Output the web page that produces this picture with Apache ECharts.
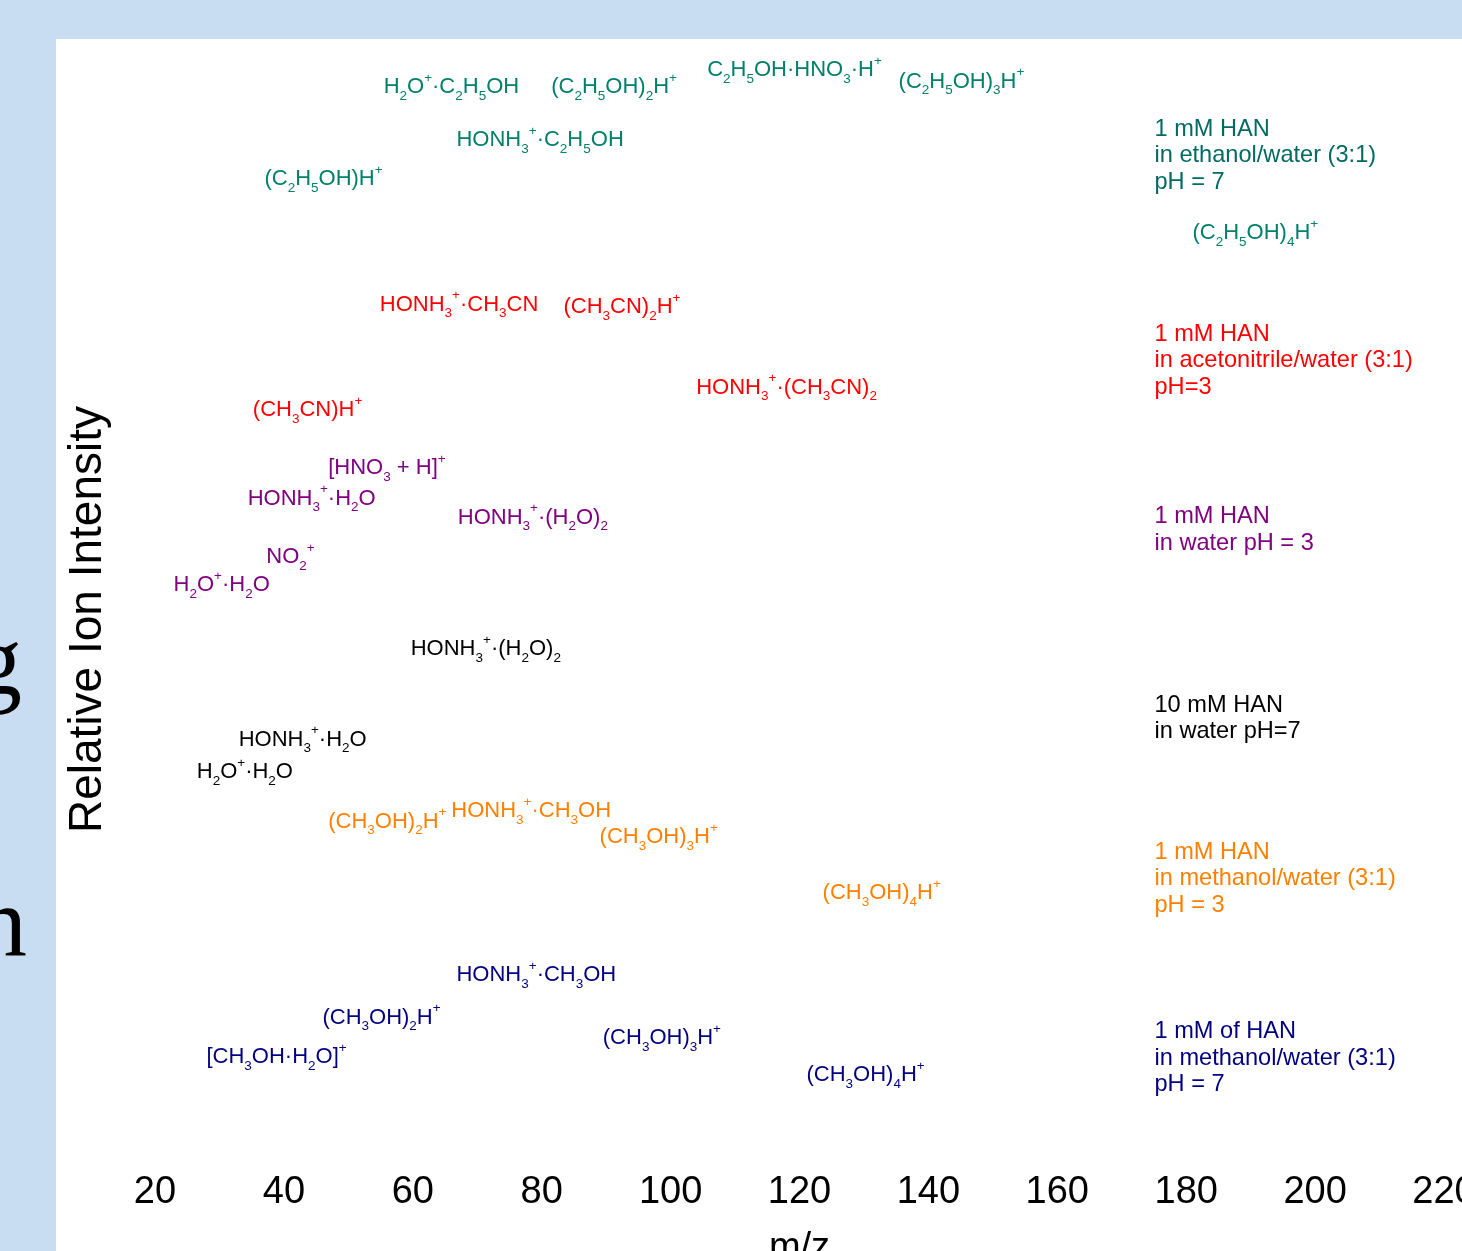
<!DOCTYPE html>
<html>
<head>
<meta charset="utf-8">
<script src="https://cdn.jsdelivr.net/npm/echarts@6/dist/echarts.min.js"></script>
<style>
html,body{margin:0;padding:0;background:#C8DDF1;overflow:hidden}
#c{width:1462px;height:1251px}
</style>
</head>
<body>
<div id="c"></div>
<script>
// ---------------- DATA ----------------
// x-axis tick range (m/z)
const mzMin = 20, mzMax = 220, mzStep = 20;

// Ion labels (formula markup: _x subscript, ^x superscript), their m/z anchor and relative intensity position
const ethanolLabels = ['H_2O^+·C_2H_5OH', '(C_2H_5OH)_2H^+', 'C_2H_5OH·HNO_3·H^+', '(C_2H_5OH)_3H^+', 'HONH_3^+·C_2H_5OH', '(C_2H_5OH)H^+', '(C_2H_5OH)_4H^+'];
const ethanolMz = [55.4, 81.4, 105.6, 135.3, 66.7, 36.9, 180.9];
const ethanolIntensity = [95.7, 95.7, 97.2, 96.2, 91.0, 87.5, 82.7];

const acetonitrileLabels = ['HONH_3^+·CH_3CN', '(CH_3CN)_2H^+', 'HONH_3^+·(CH_3CN)_2', '(CH_3CN)H^+'];
const acetonitrileMz = [54.8, 83.3, 103.9, 35.1];
const acetonitrileIntensity = [76.3, 76.1, 68.9, 66.9];

const waterPh3Labels = ['[HNO_3 + H]^+', 'HONH_3^+·H_2O', 'HONH_3^+·(H_2O)_2', 'NO_2^+', 'H_2O^+·H_2O'];
const waterPh3Mz = [46.8, 34.3, 66.9, 37.2, 22.8];
const waterPh3Intensity = [61.7, 59.0, 57.3, 53.8, 51.3];

const waterPh7Labels = ['HONH_3^+·(H_2O)_2', 'HONH_3^+·H_2O', 'H_2O^+·H_2O'];
const waterPh7Mz = [59.6, 32.9, 26.4];
const waterPh7Intensity = [45.6, 37.5, 34.6];

const methanolPh3Labels = ['(CH_3OH)_2H^+', 'HONH_3^+·CH_3OH', '(CH_3OH)_3H^+', '(CH_3OH)_4H^+'];
const methanolPh3Mz = [46.8, 65.9, 88.9, 123.5];
const methanolPh3Intensity = [30.2, 31.1, 28.8, 23.8];

const methanolPh7Labels = ['HONH_3^+·CH_3OH', '(CH_3OH)_2H^+', '[CH_3OH·H_2O]^+', '(CH_3OH)_3H^+', '(CH_3OH)_4H^+'];
const methanolPh7Mz = [66.7, 45.9, 27.9, 89.4, 121.0];
const methanolPh7Intensity = [16.5, 12.7, 9.2, 10.9, 7.6];

// Sample descriptions
const sampleNames = [
  '1 mM HAN\nin ethanol/water (3:1)\npH = 7',
  '1 mM HAN\nin acetonitrile/water (3:1)\npH=3',
  '1 mM HAN\nin water pH = 3',
  '10 mM HAN\nin water pH=7',
  '1 mM HAN\nin methanol/water (3:1)\npH = 3',
  '1 mM of HAN\nin methanol/water (3:1)\npH = 7'
];
const sampleMz = [175, 175, 175, 175, 175, 175];
const sampleIntensity = [89.6, 71.3, 56.2, 39.4, 25.1, 9.1];

// ---------------- STYLE ----------------
const FONT = '"Liberation Sans", Arial, Helvetica, sans-serif';
const ionColors = ['#00806A', '#FF0000', '#800080', '#000000', '#FF8000', '#000080'];
const descColors = ['#006A63', '#FF0000', '#800080', '#000000', '#FF8000', '#000080'];

function toRich(s) {
  let out = '', buf = '';
  const flush = () => { if (buf) { out += '{m|' + buf + '}'; buf = ''; } };
  for (let i = 0; i < s.length; i++) {
    const ch = s[i];
    if ((ch === '_' || ch === '^') && i + 1 < s.length) {
      flush();
      out += '{' + (ch === '_' ? 's' : 'p') + '|' + s[i + 1] + '}';
      i++;
    } else buf += ch;
  }
  flush();
  return out;
}

function richFor(color) {
  return {
    m: { fontSize: 22, lineHeight: 32, verticalAlign: 'middle', color: color, fontFamily: FONT },
    s: { fontSize: 13.5, lineHeight: 13, verticalAlign: 'bottom', color: color, fontFamily: FONT },
    p: { fontSize: 13.5, lineHeight: 16, verticalAlign: 'top', color: color, fontFamily: FONT }
  };
}

function ionSeries(name, labels, mz, inten, color) {
  return {
    type: 'scatter', name: name, clip: false,
    symbolSize: 1, itemStyle: { color: 'rgba(0,0,0,0)', opacity: 1 },
    data: labels.map((l, i) => ({ name: l, value: [mz[i], inten[i]] })),
    label: {
      show: true, position: 'right', distance: 0, align: 'left', opacity: 1,
      color: color, formatter: p => toRich(p.name), rich: richFor(color)
    },
    emphasis: { disabled: true }, silent: true
  };
}

const groups = [
  ['ethanol', ethanolLabels, ethanolMz, ethanolIntensity],
  ['acetonitrile', acetonitrileLabels, acetonitrileMz, acetonitrileIntensity],
  ['water pH 3', waterPh3Labels, waterPh3Mz, waterPh3Intensity],
  ['water pH 7', waterPh7Labels, waterPh7Mz, waterPh7Intensity],
  ['methanol pH 3', methanolPh3Labels, methanolPh3Mz, methanolPh3Intensity],
  ['methanol pH 7', methanolPh7Labels, methanolPh7Mz, methanolPh7Intensity]
];

const series = groups.map((g, k) => ionSeries(g[0], g[1], g[2], g[3], ionColors[k]));
series.push({
  type: 'scatter', name: 'samples', clip: false,
  symbolSize: 1, itemStyle: { color: 'rgba(0,0,0,0)', opacity: 1 },
  data: sampleNames.map((n, i) => ({
    name: n, value: [sampleMz[i], sampleIntensity[i]],
    label: { color: descColors[i] }
  })),
  label: {
    show: true, position: 'right', distance: 0, align: 'left', opacity: 1,
    formatter: p => p.name, fontSize: 23.6, lineHeight: 26.5, fontFamily: FONT
  },
  emphasis: { disabled: true }, silent: true
});

const chart = echarts.init(document.getElementById('c'), null, { renderer: 'canvas' });
chart.setOption({
  backgroundColor: '#C8DDF1',
  animation: false,
  graphic: [
    { type: 'rect', z: -100, shape: { x: 56, y: 39, width: 1406, height: 1212 }, style: { fill: '#FFFFFF' }, silent: true },
    { type: 'text', z: -50, x: -28, y: 668, style: { text: 'g', font: '100px "Liberation Serif", "Times New Roman", serif', fill: '#000', verticalAlign: 'middle' }, silent: true },
    { type: 'text', z: -50, x: -23, y: 929, style: { text: 'n', font: '100px "Liberation Serif", "Times New Roman", serif', fill: '#000', verticalAlign: 'middle' }, silent: true }
  ],
  grid: { left: 155, right: 18, top: 39, bottom: 91, containLabel: false, outerBoundsMode: 'none' },
  xAxis: {
    type: 'value', min: mzMin, max: mzMax, interval: mzStep,
    name: 'm/z', nameLocation: 'middle', nameGap: 70,
    nameTextStyle: { fontSize: 38, color: '#000', fontFamily: FONT },
    axisLine: { show: false }, axisTick: { show: false }, splitLine: { show: false },
    axisLabel: { fontSize: 38, color: '#000', margin: 14, fontFamily: FONT, showMaxLabel: true, showMinLabel: true, hideOverlap: false }
  },
  yAxis: {
    type: 'value', min: 0, max: 100,
    name: 'Relative Ion Intensity', nameLocation: 'middle', nameGap: 44,
    nameTextStyle: { fontSize: 46, color: '#000', fontFamily: FONT, padding: [0, 40, 0, 0] },
    axisLine: { show: false }, axisTick: { show: false }, splitLine: { show: false }, axisLabel: { show: false }
  },
  series: series
});
</script>
</body>
</html>
